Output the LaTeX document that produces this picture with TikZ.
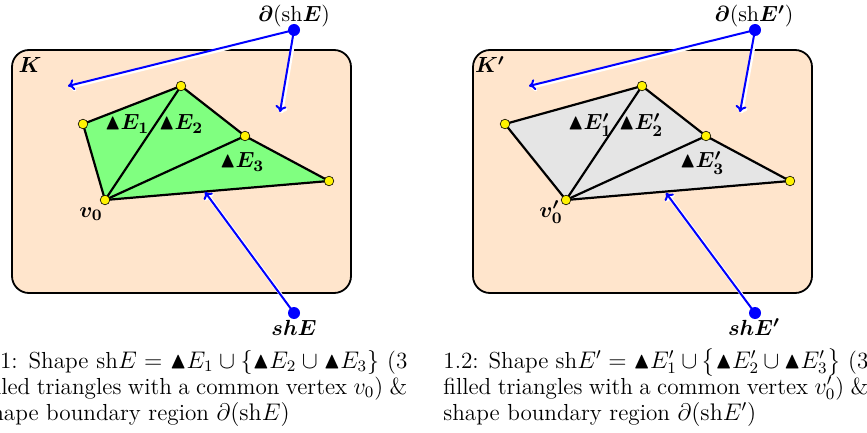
\documentclass[tikz,border=0pt]{standalone}
\usepackage{amsmath,amssymb}
\usetikzlibrary{arrows.meta}
\definecolor{peach}{RGB}{255,229,204}
\definecolor{lgreen}{RGB}{128,255,128}
\definecolor{lgray}{RGB}{229,229,229}
\begin{document}
\begin{tikzpicture}[x=0.5pt,y=-0.5pt,
  region/.style={draw=black, line width=0.9pt, fill=peach, rounded corners=8.5pt},
  edge/.style={draw=black, line width=1.1pt, line cap=round, line join=round},
  vdot/.style={circle, draw=black, line width=0.3pt, fill=yellow, inner sep=0pt, minimum size=4.8pt},
  bdot/.style={circle, fill=blue, inner sep=0pt, minimum size=6pt},
  ptr/.style={draw=blue, line width=1pt, -{To[length=3.2pt,width=5.5pt]},
    preaction={draw=white, line width=1.8pt, transform canvas={shift={(1.3,1.3)}}}},
  lbl/.style={inner sep=0pt, anchor=base, font=\fontsize{11}{13}\selectfont},
  capt/.style={inner sep=0pt, text width=212.5pt, align=justify, font=\fontsize{11.6}{13}\selectfont, anchor=base west}
]
\useasboundingbox (0,0) rectangle (867,433);

% ---------- left panel ----------
\draw[region] (12,50) rectangle (351,293);
\node[lbl] (K) at (30,73) {$\boldsymbol{K}$};
\coordinate (A) at (105,200);
\coordinate (B) at (83,124);
\coordinate (C) at (181,86);
\coordinate (D) at (245,136);
\coordinate (E) at (329,181);
\fill[lgreen] (A)--(B)--(C)--(D)--(E)--cycle;
\draw[edge] (A)--(B)--(C)--(D)--(E)--cycle;
\draw[edge] (A)--(C) (A)--(D);
\node[vdot] (vA) at (A) {};
\node[vdot] (vB) at (B) {};
\node[vdot] (vC) at (C) {};
\node[vdot] (vD) at (D) {};
\node[vdot] (vE) at (E) {};
\node[lbl] (e1) at (127,130) {$\boldsymbol{\blacktriangle E_1}$};
\node[lbl] (e2) at (181,130) {$\boldsymbol{\blacktriangle E_2}$};
\node[lbl] (e3) at (242,168) {$\boldsymbol{\blacktriangle E_3}$};
\node[lbl] (v0) at (91,217) {$\boldsymbol{v_0}$};
\coordinate (p1) at (294,30);
\node[lbl] (p1l) at (294,22) {$\boldsymbol{\partial}(\mathrm{sh}\boldsymbol{E})$};
\coordinate (t1) at (68,86);
\coordinate (t2) at (280,112);
\draw[ptr] (p1) -- (t1);
\draw[ptr] (p1) -- (t2);
\node[bdot] (p1d) at (p1) {};
\coordinate (q1) at (294,313);
\node[lbl] (q1l) at (294,335) {$\boldsymbol{shE}$};
\coordinate (t3) at (205,192);
\draw[ptr] (q1) -- (t3);
\node[bdot] (q1d) at (q1) {};
\node[capt] (cap1) at (-18,368) {1.1: Shape sh$E = \blacktriangle E_1 \cup \{\blacktriangle E_2 \cup \blacktriangle E_3\}$ (3\linebreak filled triangles with a common vertex $v_0$) \&\linebreak shape boundary region $\partial(\mathrm{sh}E)$};

% ---------- right panel ----------
\draw[region] (473,50) rectangle (812,293);
\node[lbl] (K2) at (490,73) {$\boldsymbol{K'}$};
\coordinate (A2) at (566,200);
\coordinate (B2) at (505,124);
\coordinate (C2) at (642,86);
\coordinate (D2) at (706,136);
\coordinate (E2) at (790,181);
\fill[lgray] (A2)--(B2)--(C2)--(D2)--(E2)--cycle;
\draw[edge] (A2)--(B2)--(C2)--(D2)--(E2)--cycle;
\draw[edge] (A2)--(C2) (A2)--(D2);
\node[vdot] (wA) at (A2) {};
\node[vdot] (wB) at (B2) {};
\node[vdot] (wC) at (C2) {};
\node[vdot] (wD) at (D2) {};
\node[vdot] (wE) at (E2) {};
\node[lbl] (f1) at (590,130) {$\boldsymbol{\blacktriangle E'_1}$};
\node[lbl] (f2) at (641,130) {$\boldsymbol{\blacktriangle E'_2}$};
\node[lbl] (f3) at (702,168) {$\boldsymbol{\blacktriangle E'_3}$};
\node[lbl] (w0) at (551,217) {$\boldsymbol{v'_0}$};
\coordinate (p2) at (755,30);
\node[lbl] (p2l) at (754,22) {$\boldsymbol{\partial}(\mathrm{sh}\boldsymbol{E'})$};
\coordinate (t4) at (529,86);
\coordinate (t5) at (740,112);
\draw[ptr] (p2) -- (t4);
\draw[ptr] (p2) -- (t5);
\node[bdot] (p2d) at (p2) {};
\coordinate (q2) at (755,313);
\node[lbl] (q2l) at (754,335) {$\boldsymbol{shE'}$};
\coordinate (t6) at (666,193);
\draw[ptr] (q2) -- (t6);
\node[bdot] (q2d) at (q2) {};
\node[capt] (cap2) at (443,368) {1.2: Shape sh$E' = \blacktriangle E'_1 \cup \bigl\{\blacktriangle E'_2 \cup \blacktriangle E'_3\bigr\}$ (3\linebreak filled triangles with a common vertex $v'_0$) \&\linebreak shape boundary region $\partial(\mathrm{sh}E')$};
\end{tikzpicture}
\end{document}
